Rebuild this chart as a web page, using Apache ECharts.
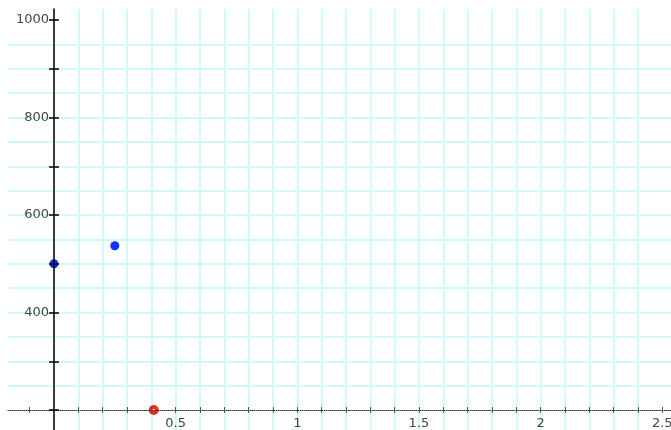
<!DOCTYPE html>
<html>
<head>
<meta charset="utf-8">
<script src="https://cdn.jsdelivr.net/npm/echarts@6/dist/echarts.min.js"></script>
<style>
html,body{margin:0;padding:0;background:#fff;}
#chart{width:671px;height:430px;}
</style>
</head>
<body>
<div id="chart"></div>
<script>
// ---- data ----
var bluePoints = [[0, 500], [0.25, 537]];
var redPoints = [[0.41, 200]];

// ---- axis ranges and ticks ----
var X_MIN = -0.189, X_MAX = 2.536;
var Y_MIN = 159, Y_MAX = 1022.6;
var xGridValues = [-0.1, 0, 0.1, 0.2, 0.3, 0.4, 0.5, 0.6, 0.7, 0.8, 0.9, 1, 1.1, 1.2, 1.3, 1.4, 1.5, 1.6, 1.7, 1.8, 1.9, 2, 2.1, 2.2, 2.3, 2.4, 2.5];
var xTickValues = [-0.1, 0.1, 0.2, 0.3, 0.4, 0.5, 0.6, 0.7, 0.8, 0.9, 1, 1.1, 1.2, 1.3, 1.4, 1.5, 1.6, 1.7, 1.8, 1.9, 2, 2.1, 2.2, 2.3, 2.4, 2.5];
var xLabelValues = [0.5, 1, 1.5, 2, 2.5];
var yGridValues = [200, 250, 300, 350, 400, 450, 500, 550, 600, 650, 700, 750, 800, 850, 900, 950, 1000];
var yTickValues = [200, 300, 400, 500, 600, 700, 800, 900, 1000];
var yLabelValues = [400, 600, 800, 1000];

var gridColor = '#cffbfd';
var labelStyle = { fontSize: 13, color: '#454545', fontFamily: 'DejaVu Sans', formatter: function (v) { return String(v); } };

// pixel of x = 0 inside the plot
var PLOT_LEFT = 8, PLOT_W = 671 - 8;
var zeroLeft = PLOT_LEFT + (0 - X_MIN) / (X_MAX - X_MIN) * PLOT_W;

var chart = echarts.init(document.getElementById('chart'), null, { renderer: 'canvas' });
chart.setOption({
  animation: false,
  backgroundColor: '#ffffff',
  grid: [
    { left: PLOT_LEFT, right: 0, top: 9, bottom: 0, containLabel: false, outerBoundsMode: 'none' },
    { left: PLOT_LEFT, right: 0, top: 9, bottom: 20, containLabel: false, outerBoundsMode: 'none' },
    { left: zeroLeft, right: 0, top: 9, bottom: 0, containLabel: false, outerBoundsMode: 'none' }
  ],
  xAxis: [
    {
      gridIndex: 0, type: 'value', min: X_MIN, max: X_MAX,
      axisLine: { show: false },
      axisTick: { show: false, customValues: xGridValues },
      axisLabel: { show: false },
      splitLine: { show: true, showMinLine: false, showMaxLine: false, lineStyle: { color: gridColor, width: 2 } }
    },
    {
      gridIndex: 1, type: 'value', position: 'bottom', min: X_MIN, max: X_MAX, z: 6,
      axisLine: { show: true, onZero: false, lineStyle: { color: '#333', width: 1, type: [1, 1] } },
      axisTick: { show: true, inside: false, length: 3, customValues: xTickValues, lineStyle: { color: '#555', width: 1 } },
      axisLabel: Object.assign({ show: true, margin: 7, customValues: xLabelValues }, labelStyle),
      splitLine: { show: false }
    },
    {
      gridIndex: 1, type: 'value', position: 'bottom', min: X_MIN, max: X_MAX, z: 6,
      axisLine: { show: false, onZero: false },
      axisTick: { show: true, inside: true, length: 3, customValues: xTickValues, lineStyle: { color: '#555', width: 1 } },
      axisLabel: { show: false },
      splitLine: { show: false }
    },
    { gridIndex: 2, type: 'value', min: 0, max: 1, show: false }
  ],
  yAxis: [
    {
      gridIndex: 0, type: 'value', position: 'left', min: Y_MIN, max: Y_MAX,
      axisLine: { show: false },
      axisTick: { show: false, customValues: yGridValues },
      axisLabel: { show: false },
      splitLine: { show: true, showMinLine: false, showMaxLine: false, lineStyle: { color: gridColor, width: 2 } }
    },
    { gridIndex: 1, type: 'value', min: 0, max: 1, show: false },
    {
      gridIndex: 2, type: 'value', position: 'left', min: Y_MIN, max: Y_MAX, z: 6,
      axisLine: { show: true, onZero: false, lineStyle: { color: '#000', width: 1.5 } },
      axisTick: { show: true, inside: false, length: 5, customValues: yTickValues, lineStyle: { color: '#000', width: 1.5 } },
      axisLabel: Object.assign({ show: true, margin: 5, customValues: yLabelValues }, labelStyle),
      splitLine: { show: false }
    },
    {
      gridIndex: 2, type: 'value', position: 'left', min: Y_MIN, max: Y_MAX, z: 6,
      axisLine: { show: false, onZero: false },
      axisTick: { show: true, inside: true, length: 5, customValues: yTickValues, lineStyle: { color: '#000', width: 1.5 } },
      axisLabel: { show: false },
      splitLine: { show: false }
    }
  ],
  series: [
    {
      type: 'scatter', xAxisIndex: 0, yAxisIndex: 0, data: bluePoints,
      symbol: 'circle', symbolSize: 9, z: 3,
      itemStyle: { color: '#1232ff', opacity: 1 }
    },
    {
      type: 'scatter', xAxisIndex: 0, yAxisIndex: 0, data: redPoints,
      symbol: 'circle', symbolSize: 10, z: 3,
      itemStyle: {
        opacity: 1,
        color: {
          type: 'radial', x: 0.5, y: 0.5, r: 0.5,
          colorStops: [
            { offset: 0, color: '#ffffff' },
            { offset: 0.18, color: '#ffffff' },
            { offset: 0.3, color: '#f02a1e' },
            { offset: 1, color: '#f02a1e' }
          ]
        }
      }
    }
  ]
});
</script>
</body>
</html>
